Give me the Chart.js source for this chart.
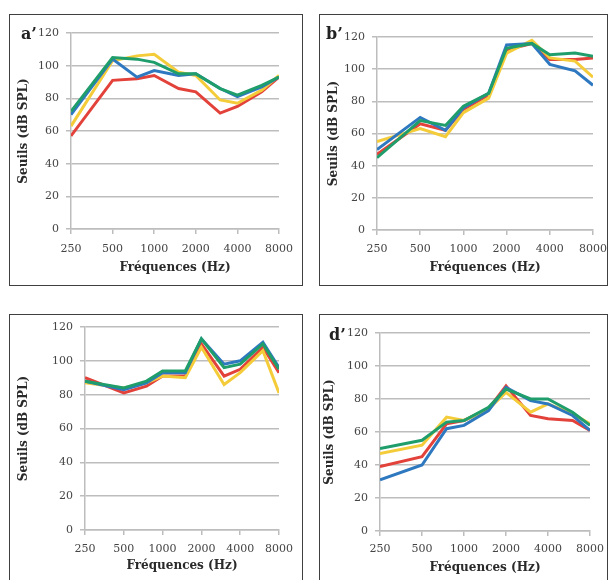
<!DOCTYPE html>
<html><head><meta charset="utf-8">
<script src="https://cdn.jsdelivr.net/npm/chart.js@4.4.1/dist/chart.umd.min.js"></script>
<style>
html,body{margin:0;padding:0;background:#fff;width:608px;height:580px;overflow:hidden;position:relative}
.box{position:absolute;border:1px solid #404040;box-sizing:border-box}
canvas{position:absolute}
.lbl{position:absolute;font-family:"DejaVu Serif";font-weight:bold;font-size:16px;color:#222;line-height:1}
</style></head><body>
<div class="box" style="left:9px;top:14px;width:294px;height:272px"></div>
<div class="box" style="left:319px;top:14px;width:289px;height:272px"></div>
<div class="box" style="left:9px;top:314px;width:294px;height:280px"></div>
<div class="box" style="left:319px;top:314px;width:289px;height:280px"></div>
<canvas id="ca" width="294" height="272" style="left:9px;top:14px"></canvas>
<canvas id="cb" width="289" height="272" style="left:319px;top:14px"></canvas>
<canvas id="cc" width="294" height="266" style="left:9px;top:314px"></canvas>
<canvas id="cd" width="289" height="266" style="left:319px;top:314px"></canvas>
<div class="lbl" style="left:21px;top:26px">a’</div>
<div class="lbl" style="left:326px;top:26px">b’</div>
<div class="lbl" style="left:329px;top:327px">d’</div>
<script>
// Data
const frequencies = [250, 500, 750, 1000, 1500, 2000, 3000, 4000, 6000, 8000];
const xTickValues = [250, 500, 1000, 2000, 4000, 8000];
const yTickValues = [0, 20, 40, 60, 80, 100, 120];
const xTitle = 'Fréquences (Hz)';
const yTitle = 'Seuils (dB SPL)';

const aBlue   = [70, 104, 93, 97, 94, 95, 86, 81, 87, 93];
const aGreen  = [72, 105, 104, 102, 95, 95, 86, 82, 88, 93];
const aYellow = [63, 103, 106, 107, 96, 94, 79, 77, 85, 94];
const aRed    = [57, 91, 92, 94, 86, 84, 71, 75, 84, 93];

const bBlue   = [50, 70, 62, 76, 85, 115, 116, 103, 99, 90];
const bGreen  = [45, 68, 65, 77, 85, 113, 116, 109, 110, 108];
const bYellow = [55, 63, 58, 73, 82, 110, 118, 107, 105, 95];
const bRed    = [47, 66, 62, 75, 84, 112, 116, 106, 106, 107];

const cBlue   = [88, 83, 87, 93, 93, 113, 98, 100, 111, 96];
const cGreen  = [88, 84, 88, 94, 94, 113, 96, 98, 110, 95];
const cYellow = [87, 84, 87, 91, 90, 108, 86, 93, 106, 81];
const cRed    = [90, 81, 85, 91, 91, 110, 91, 95, 108, 93];

const dBlue   = [31, 40, 62, 64, 73, 87, 79, 77, 70, 61];
const dGreen  = [50, 55, 66, 67, 75, 86, 80, 80, 72, 64];
const dYellow = [47, 52, 69, 67, 74, 84, 72, 77, 71, 65];
const dRed    = [39, 45, 65, 67, 74, 88, 70, 68, 67, 61];

const COLORS = {blue:'#2e78c0', green:'#1f9e6c', yellow:'#f4cc3a', red:'#e3423a'};
const GRID = '#bdbdbd';
const TICKFONT = {family:'"DejaVu Serif"', size:11};
const TITLEFONT = {family:'"DejaVu Serif"', size:12, weight:'bold'};

function pts(arr){ return arr.map((v,i)=>({x:frequencies[i], y:v})); }

function makeChart(id, series, lay){
  const ds = [
    {label:'green', data:pts(series.green), borderColor:COLORS.green},
    {label:'blue', data:pts(series.blue), borderColor:COLORS.blue},
    {label:'yellow', data:pts(series.yellow), borderColor:COLORS.yellow},
    {label:'red', data:pts(series.red), borderColor:COLORS.red}
  ].map(d=>Object.assign(d,{borderWidth:3, pointRadius:0, tension:0, fill:false}));
  new Chart(document.getElementById(id), {
    type:'line',
    data:{datasets:ds},
    options:{
      responsive:false, animation:false, events:[],
      layout:{padding:{left:lay.pl, top:lay.pt, right:lay.pr, bottom:lay.pb}},
      plugins:{legend:{display:false}, tooltip:{enabled:false}},
      scales:{
        x:{
          type:'logarithmic', min:250, max:8000,
          afterBuildTicks:(s)=>{ s.ticks = xTickValues.map(v=>({value:v})); },
          afterFit:(s)=>{ s.height = lay.xh; s.paddingLeft=0; s.paddingRight=0; },
          ticks:{autoSkip:false, maxRotation:0, minRotation:0, padding:lay.xp, color:'#454545', font:TICKFONT,
                 callback:(v)=>String(v)},
          grid:{display:true, drawOnChartArea:false, drawTicks:true, tickLength:5, color:GRID, lineWidth:1.5},
          border:{display:true, color:GRID, width:1.5},
          title:{display:true, text:xTitle, color:'#2a2a2a', font:TITLEFONT, padding:{top:2,bottom:4}}
        },
        y:{
          min:0, max:120,
          afterBuildTicks:(s)=>{ s.ticks = yTickValues.map(v=>({value:v})); },
          afterFit:(s)=>{ s.width = lay.yw; s.paddingTop=0; s.paddingBottom=0; },
          ticks:{padding:7, color:'#454545', font:TICKFONT},
          grid:{color:GRID, lineWidth:1.5, tickLength:5},
          border:{display:true, color:GRID, width:1.5},
          title:{display:true, text:yTitle, color:'#2a2a2a', font:TITLEFONT, padding:{top:4,bottom:4}}
        }
      }
    }
  });
}

makeChart('ca', {blue:aBlue, green:aGreen, yellow:aYellow, red:aRed}, {pl:4, pt:19, pr:24, pb:7, yw:58, xh:50, xp:9});
makeChart('cb', {blue:bBlue, green:bGreen, yellow:bYellow, red:bRed}, {pl:4, pt:23, pr:15, pb:7, yw:54, xh:49, xp:8});
makeChart('cc', {blue:cBlue, green:cGreen, yellow:cYellow, red:cRed}, {pl:4, pt:13, pr:24, pb:3, yw:72, xh:47, xp:8});
makeChart('cd', {blue:dBlue, green:dGreen, yellow:dYellow, red:dRed}, {pl:0, pt:19, pr:18, pb:1, yw:61, xh:48, xp:7});
</script>
</body></html>
